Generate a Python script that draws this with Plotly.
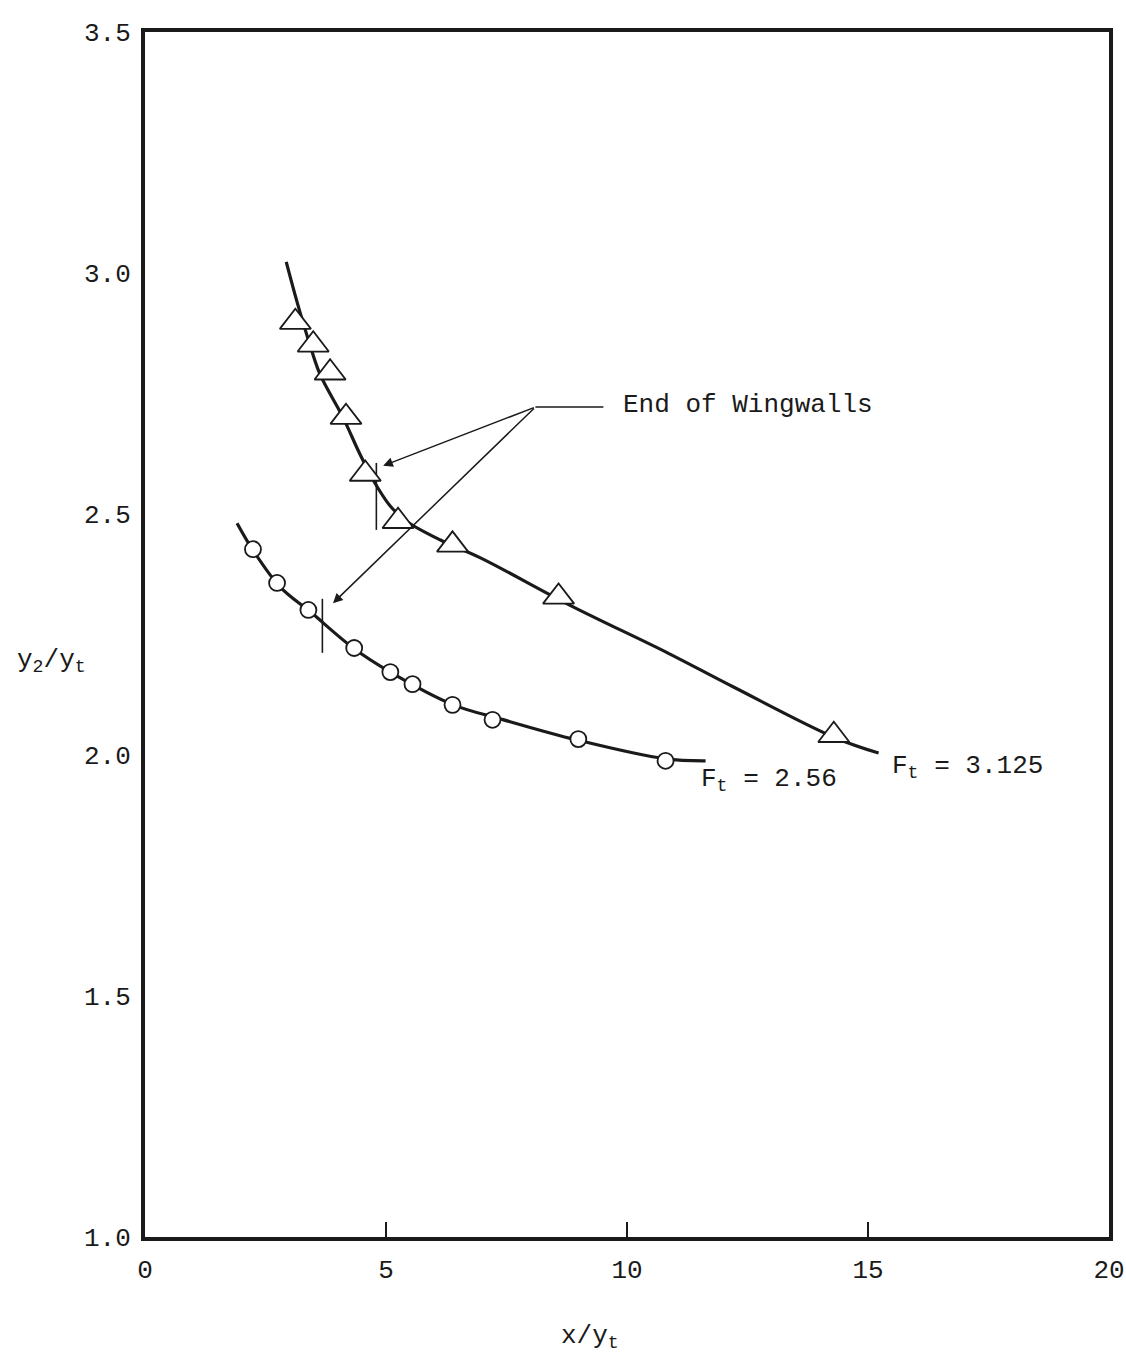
import plotly.graph_objects as go

# ---- data ----
tri_x = [3.12, 3.49, 3.84, 4.17, 4.57, 5.25, 6.38, 8.58, 14.29]
tri_y = [2.898, 2.851, 2.793, 2.701, 2.583, 2.485, 2.436, 2.328, 2.041]

tri_curve_x = [2.93, 3.16, 3.40, 3.63, 4.11, 4.47, 4.82, 5.10, 5.44, 6.13, 6.96, 8.83, 10.84, 12.21, 14.29, 15.22]
tri_curve_y = [3.023, 2.938, 2.858, 2.790, 2.700, 2.622, 2.556, 2.515, 2.484, 2.446, 2.409, 2.310, 2.212, 2.141, 2.037, 2.004]

circ_x = [2.24, 2.74, 3.39, 4.34, 5.09, 5.55, 6.38, 7.21, 8.99, 10.80]
circ_y = [2.427, 2.357, 2.301, 2.222, 2.172, 2.147, 2.104, 2.073, 2.033, 1.988]

circ_curve_x = [1.91, 2.24, 2.80, 3.43, 4.32, 5.09, 6.40, 7.37, 8.97, 10.80, 11.63]
circ_curve_y = [2.481, 2.425, 2.349, 2.297, 2.222, 2.172, 2.104, 2.075, 2.031, 1.992, 1.988]

wing_tri_x = [4.80, 4.80]
wing_tri_y = [2.467, 2.606]
wing_circ_x = [3.68, 3.68]
wing_circ_y = [2.212, 2.324]

arrow_tail = (8.10, 2.722)
arrow_heads = [(4.94, 2.600), (3.90, 2.315)]
leader_x = [8.10, 9.51]
leader_y = [2.722, 2.722]

x_ticks = [0, 5, 10, 15, 20]
y_ticks = [1.0, 1.5, 2.0, 2.5, 3.0, 3.5]
y_tick_labels = ["1.0", "1.5", "2.0", "2.5", "3.0", "3.5"]

FONT = "Liberation Mono, Courier New, monospace"
INK = "#1a1a1a"
FS = 26

fig = go.Figure()

fig.add_trace(go.Scatter(x=tri_curve_x, y=tri_curve_y, mode="lines",
                         line=dict(color=INK, width=3.2, shape="spline", smoothing=1.0),
                         hoverinfo="skip"))
fig.add_trace(go.Scatter(x=circ_curve_x, y=circ_curve_y, mode="lines",
                         line=dict(color=INK, width=3.2, shape="spline", smoothing=1.0),
                         hoverinfo="skip"))
for wx, wy in [(wing_tri_x, wing_tri_y), (wing_circ_x, wing_circ_y)]:
    fig.add_trace(go.Scatter(x=wx, y=wy, mode="lines", line=dict(color=INK, width=1.6)))
fig.add_trace(go.Scatter(x=leader_x, y=leader_y, mode="lines", line=dict(color=INK, width=1.6)))

fig.add_trace(go.Scatter(x=tri_x, y=tri_y, mode="markers",
                         marker=dict(symbol="triangle-up", size=27, color="white",
                                     line=dict(color=INK, width=1.8))))
fig.add_trace(go.Scatter(x=circ_x, y=circ_y, mode="markers",
                         marker=dict(symbol="circle", size=16, color="white",
                                     line=dict(color=INK, width=1.8))))

annotations = []
for hx, hy in arrow_heads:
    annotations.append(dict(x=hx, y=hy, ax=arrow_tail[0], ay=arrow_tail[1],
                            xref="x", yref="y", axref="x", ayref="y",
                            text="", showarrow=True, arrowhead=2, arrowsize=1.3,
                            arrowwidth=1.5, arrowcolor=INK))
annotations.append(dict(x=9.87, y=2.726, xref="x", yref="y", text="End of Wingwalls",
                        showarrow=False, xanchor="left", yanchor="middle",
                        font=dict(family=FONT, size=FS, color=INK)))
annotations.append(dict(x=11.5, y=1.985, xref="x", yref="y",
                        text="F<sub>t</sub> = 2.56",
                        showarrow=False, xanchor="left", yanchor="top",
                        font=dict(family=FONT, size=FS, color=INK)))
annotations.append(dict(x=15.45, y=2.012, xref="x", yref="y",
                        text="F<sub>t</sub> = 3.125",
                        showarrow=False, xanchor="left", yanchor="top",
                        font=dict(family=FONT, size=FS, color=INK)))
annotations.append(dict(x=-0.097, y=0.478, xref="paper", yref="paper",
                        text="y<sub>2</sub>/y<sub>t</sub>",
                        showarrow=False, xanchor="center", yanchor="middle",
                        font=dict(family=FONT, size=FS, color=INK)))
annotations.append(dict(x=0.462, y=0, xref="paper", yref="paper", yshift=-82,
                        text="x/y<sub>t</sub>",
                        showarrow=False, xanchor="center", yanchor="top",
                        font=dict(family=FONT, size=FS, color=INK)))

fig.update_layout(
    width=1126, height=1358,
    margin=dict(l=145, r=17, t=32, b=121, autoexpand=False),
    paper_bgcolor="white", plot_bgcolor="white",
    showlegend=False,
    font=dict(family=FONT, size=FS, color=INK),
    annotations=annotations,
    xaxis=dict(range=[0, 20], tickvals=x_ticks, ticktext=[str(v) for v in x_ticks],
               showgrid=False, zeroline=False, showline=True, linewidth=4, linecolor=INK,
               mirror=True, ticks="inside", ticklen=15, tickwidth=1.5, tickcolor=INK,
               ticklabelstandoff=6, automargin=False),
    yaxis=dict(range=[1.0, 3.5], tickvals=y_ticks, ticktext=y_tick_labels,
               showgrid=False, zeroline=False, showline=True, linewidth=4, linecolor=INK,
               mirror=True, ticks="", ticklabelstandoff=5, automargin=False),
)

fig.write_html("out.html")
